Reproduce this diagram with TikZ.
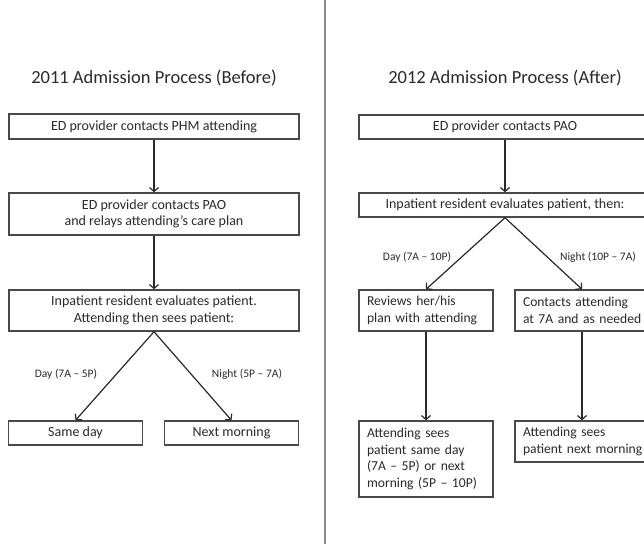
\documentclass[tikz,border=0pt]{standalone}
\usepackage{fontspec}
\setmainfont{Carlito}
\usetikzlibrary{arrows.meta}
\definecolor{txt}{HTML}{2A2A2A}
\definecolor{edge}{HTML}{4A4A4A}
\definecolor{divc}{HTML}{8A8A8A}
\tikzset{
  boxc/.style={draw=edge, line width=1.4pt, text=txt, align=center, inner sep=0pt,
    font=\fontsize{14}{16.5}\selectfont},
  boxl/.style={draw=edge, line width=1.4pt, text=txt, align=left, inner xsep=8pt, inner ysep=0pt,
    text width=118pt, minimum width=134pt, font=\fontsize{13.6}{16.5}\selectfont},
  ttl/.style={text=txt, font=\fontsize{18.5}{22}\selectfont},
  lbl/.style={text=txt, font=\fontsize{11.5}{14}\selectfont},
  conn/.style={draw=txt, line width=1.2pt, -{Straight Barb[length=4pt,width=9pt,line width=1.2pt]}}
}
\begin{document}
\begin{tikzpicture}[x=1pt,y=-1pt]
\useasboundingbox (0,0) rectangle (644,544);
\fill[white] (0,0) rectangle (644,544);
\draw[divc, line width=1.2pt] (325,0) coordinate (d1) -- (325,544) coordinate (d2);
% left panel
\node[ttl] (t1) at (154,78) {2011 Admission Process (Before)};
\node[boxc, minimum width=290pt, minimum height=25pt] (a1) at (154,126.5) {ED provider contacts PHM attending};
\node[boxc, minimum width=290pt, minimum height=42pt] (a2) at (154,214) {ED provider contacts PAO\\and relays attending’s care plan};
\node[boxc, minimum width=290pt, minimum height=41pt] (a3) at (154,310.5) {Inpatient resident evaluates patient.\\Attending then sees patient:};
\node[boxc, minimum width=134pt, minimum height=24pt] (a4) at (75.5,433) {Same day};
\node[boxc, minimum width=134pt, minimum height=24pt] (a5) at (231.5,433) {Next morning};
\node[lbl] (l1) at (66,374) {Day (7A – 5P)};
\node[lbl] (l2) at (247,374) {Night (5P – 7A)};
\draw[conn] (a1.south) -- (a2.north);
\draw[conn] (a2.south) -- (a3.north);
\draw[conn] (a3.south) -- (a4.north);
\draw[conn] (a3.south) -- (a5.north);
% right panel
\node[ttl] (t2) at (505,78) {2012 Admission Process (After)};
\node[boxc, minimum width=292pt, minimum height=24pt] (b1) at (505,127) {ED provider contacts PAO};
\node[boxc, minimum width=292pt, minimum height=24pt] (b2) at (505,205) {Inpatient resident evaluates patient, then:};
\node[boxl, minimum height=41pt] (b3) at (426,310.5) {\mbox{Reviews her/his}\\\mbox{plan with attending}};
\node[boxl, minimum height=41pt] (b4) at (582,310.5) {\mbox{Contacts attending}\\\mbox{at 7A and as needed}};
\node[boxl, minimum height=76pt] (b5) at (426,459) {\mbox{Attending sees}\\\mbox{patient same day}\\\mbox{(7A – 5P) or next}\\\mbox{morning (5P – 10P)}};
\node[boxl, minimum height=41pt] (b6) at (582,441.5) {\mbox{Attending sees}\\\mbox{patient next morning}};
\node[lbl] (l3) at (417,257) {Day (7A – 10P)};
\node[lbl] (l4) at (598,257) {Night (10P – 7A)};
\draw[conn] (b1.south) -- (b2.north);
\draw[conn] (b2.south) -- (b3.north);
\draw[conn] (b2.south) -- (b4.north);
\draw[conn] (b3.south) -- (b5.north);
\draw[conn] (b4.south) -- (b6.north);
\end{tikzpicture}
\end{document}
